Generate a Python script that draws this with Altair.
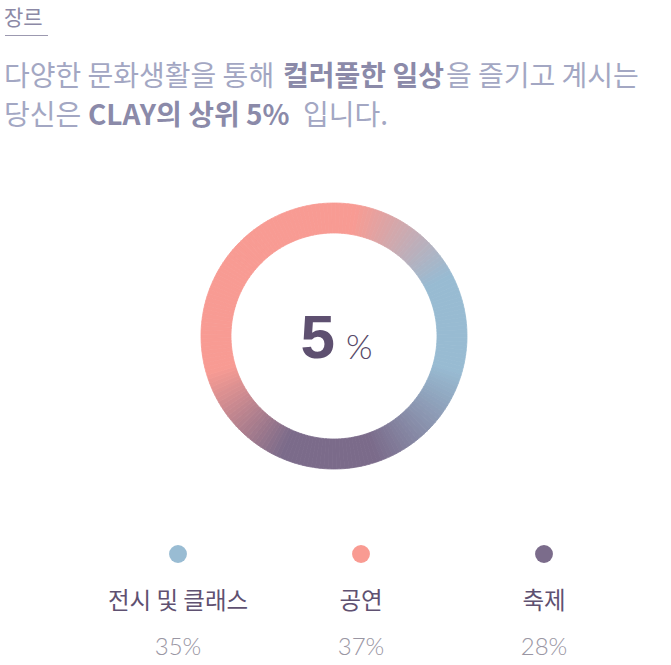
import math
import altair as alt
import pandas as pd

# ---------------- data ----------------
categories = ["전시 및 클래스", "공연", "축제"]
shares = [35, 37, 28]
legend_colors = ["#99bcd3", "#f99b92", "#7b6c8b"]
ring_sequence = [1, 3, 2]          # clockwise order on the ring: 전시 및 클래스, 축제, 공연
top_percent = 5

title_text = "장르"
line1_parts = ["다양한 문화생활을 통해", "컬러풀한 일상", "을 즐기고 계시는"]
line1_bold = [False, True, False]
line2_parts = ["당신은", f"CLAY의 상위 {top_percent}%", "입니다."]
line2_bold = [False, True, False]

# ---------------- style ----------------
W, H = 671, 665
CX, CY = 334, 336
R_OUT, R_IN = 133, 103
START_DEG = 17                      # where the ring starts (clockwise from 12 o'clock)
PINK, BLUE, PURPLE = "#f89b93", "#98bbd2", "#7b6b8a"
# conic colour stops of the ring (degrees clockwise from top)
ring_stop_deg = [10, 62, 106, 161, 204, 254, 370, 422]
ring_stop_col = [PINK, BLUE, BLUE, PURPLE, PURPLE, PINK, PINK, BLUE]
ring_stop_dom = [(d - START_DEG) / 3.6 for d in ring_stop_deg]

KR = "Noto Sans CJK KR"
REG_COL, BOLD_COL = "#a3a7c3", "#8b8aa9"

# ---------------- ring ----------------
ring_df = pd.DataFrame({"category": categories, "share": shares, "seq": ring_sequence})
ring = (
    alt.Chart(ring_df)
    .transform_window(cum="sum(share)", sort=[alt.SortField("seq")], frame=[None, 0])
    .transform_calculate(start="datum.cum - datum.share")
    .transform_calculate(steps="sequence(datum.start, datum.cum, 0.5)")
    .transform_flatten(["steps"])
    .transform_calculate(a1="min(datum.steps + 0.5, datum.cum)")
    .transform_calculate(mid="(datum.steps + datum.a1) / 2")
    .mark_arc(innerRadius=R_IN, outerRadius=R_OUT, strokeWidth=0.8)
    .encode(
        theta=alt.Theta("steps:Q", stack=None,
                        scale=alt.Scale(domain=[0, 100],
                                        range=[math.radians(START_DEG), math.radians(START_DEG) + 2 * math.pi])),
        theta2="a1:Q",
        color=alt.Color("mid:Q", legend=None,
                        scale=alt.Scale(domain=ring_stop_dom, range=ring_stop_col, interpolate="rgb")),
        stroke=alt.Stroke("mid:Q", legend=None,
                          scale=alt.Scale(domain=ring_stop_dom, range=ring_stop_col, interpolate="rgb")),
        x=alt.value(CX),
        y=alt.value(CY),
    )
)

center_num = (
    alt.Chart(pd.DataFrame({"t": [str(top_percent)]}))
    .mark_text(font="Liberation Sans", fontWeight="bold", fontSize=62, color="#5e5070",
               align="right", baseline="alphabetic")
    .encode(text="t:N", x=alt.value(335), y=alt.value(358))
)
center_pct = (
    alt.Chart(pd.DataFrame({"t": ["%"]}))
    .mark_text(font="Lato", fontWeight=300, fontSize=34, color="#574968",
               align="left", baseline="alphabetic")
    .encode(text="t:N", x=alt.value(346), y=alt.value(359))
)

# ---------------- header ----------------
def text_layer(txt, x, y, size, color, bold=False, font=KR):
    return (
        alt.Chart(pd.DataFrame({"t": [txt]}))
        .mark_text(font=font, fontSize=size, color=color, align="left", baseline="alphabetic",
                   fontWeight="bold" if bold else "normal")
        .encode(text="t:N", x=alt.value(x), y=alt.value(y))
    )

header = [text_layer(title_text, 4, 24.5, 21, "#8c89a6")]
underline = (
    alt.Chart(pd.DataFrame({"a": [0]}))
    .mark_rule(color="#9c99b0", strokeWidth=1)
    .encode(x=alt.value(5), x2=alt.value(48), y=alt.value(35.5))
)
line1_x = [4, 283, 446]
line2_x = [4, 88, 303]
for txt, b, x in zip(line1_parts, line1_bold, line1_x):
    header.append(text_layer(txt, x, 86, 28, BOLD_COL if b else REG_COL, b))
for txt, b, x in zip(line2_parts, line2_bold, line2_x):
    header.append(text_layer(txt, x, 125, 28, BOLD_COL if b else REG_COL, b))

# ---------------- legend ----------------
leg_df = pd.DataFrame({"category": categories, "share": shares})
xpos = alt.X("category:N", axis=None,
             scale=alt.Scale(type="point", domain=categories, range=[178, 544], padding=0))
leg_dots = (
    alt.Chart(leg_df)
    .mark_circle(size=320, opacity=1)
    .encode(x=xpos, y=alt.value(554),
            color=alt.Color("category:N", legend=None,
                            scale=alt.Scale(domain=categories, range=legend_colors)))
)
leg_names = (
    alt.Chart(leg_df)
    .mark_text(font=KR, fontSize=23.5, color="#5f5171", baseline="alphabetic")
    .encode(x=xpos, y=alt.value(609), text="category:N")
)
leg_pcts = (
    alt.Chart(leg_df)
    .transform_calculate(pct="datum.share + '%'")
    .mark_text(font="Lato", fontWeight=300, fontSize=24, color="#9a96a3", baseline="alphabetic")
    .encode(x=xpos, y=alt.value(655), text="pct:N")
)

chart = (
    alt.layer(ring, center_num, center_pct, underline, *header, leg_dots, leg_names, leg_pcts)
    .resolve_scale(color="independent", stroke="independent")
    .properties(width=W, height=H, padding=0, background="white",
                autosize=alt.AutoSizeParams(type="none"))
    .configure_view(stroke=None)
)

chart.save("out.html", embed_options={"renderer": "svg", "actions": False})
